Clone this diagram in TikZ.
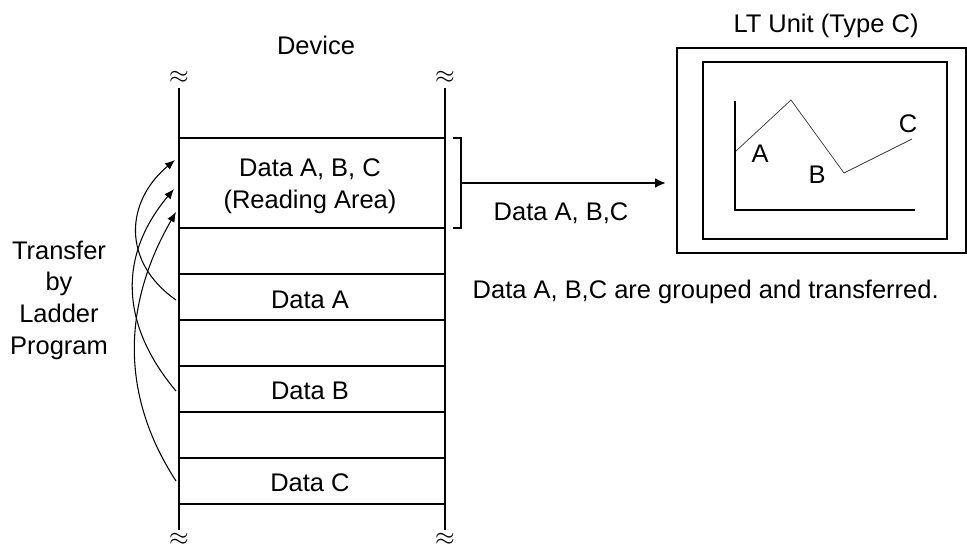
\documentclass[tikz,border=0pt]{standalone}
\usepackage{fontspec}
\setmainfont{Liberation Sans}
\usepackage{tikz}
\usetikzlibrary{arrows.meta,positioning}

\begin{document}
\begin{tikzpicture}[font=\fontsize{14.5}{18}\selectfont, wall/.style={line width=1pt}, carry/.style={-{Latex[length=2mm,width=1.6mm]}, semithick}]
        \useasboundingbox (0,0) rectangle (19.34,10.88);

        % device memory
        \draw[wall] (3.58,0.28) -- (3.58,9.12);
        \draw[wall] (8.90,0.28) -- (8.90,9.12);
        \foreach \y in {8.12,6.32,5.40,4.48,3.56,2.64,1.72,0.80}
            \draw[wall] (3.58,\y) -- (8.90,\y);
        \node (BL1) at (3.58,9.34) {$\approx$};
        \node (BR1) at (8.90,9.34) {$\approx$};
        \node (BL2) at (3.58,0.10) {$\approx$};
        \node (BR2) at (8.90,0.10) {$\approx$};

        \node (Dev) at (6.32,9.98) {Device};
        \node (Read) [align=center] at (6.20,7.16) {Data A, B, C\\(Reading Area)};
        \node (DA) at (6.20,4.88) {Data A};
        \node (DB) at (6.20,3.06) {Data B};
        \node (DC) at (6.20,1.22) {Data C};
        \node (Tr) [align=center] at (1.18,4.88) {Transfer\\by\\Ladder\\Program};

        \coordinate (sA) at (3.52,4.88);
        \coordinate (sB) at (3.52,3.06);
        \coordinate (sC) at (3.52,1.26);
        \coordinate (tA) at (3.50,7.68);
        \coordinate (tB) at (3.48,7.10);
        \coordinate (tC) at (3.52,6.64);
        \draw[carry] (sA) to[out=145, in=220, looseness=1.2] (tA);
        \draw[carry] (sB) to[out=130, in=230, looseness=1.1] (tB);
        \draw[carry] (sC) to[out=123, in=240] (tC);

        % bracket and transfer
        \draw[line width=1.6pt] (9.06,8.12) -- (9.22,8.12) -- (9.22,6.32) -- (9.06,6.32);
        \coordinate (brk) at (9.22,7.22);
        \node (LT) [draw, line width=1pt, minimum width=5.78cm, minimum height=4.10cm] at (16.43,7.87) {};
        \node (scr) [draw, line width=1pt, minimum width=4.88cm, minimum height=3.54cm] at (16.50,7.87) {};
        \draw[-{Latex[length=2.2mm,width=2mm]}, line width=1.7pt] (brk) -- (13.32,7.22);
        \node (lab) at (11.22,6.62) {Data A, B,C};
        \node (note) [anchor=west] at (9.33,5.05) {Data A, B,C are grouped and transferred.};
        \node (LTt) at (16.52,10.36) {LT Unit (Type C)};

        % trend graph
        \draw[wall] (14.70,8.86) -- (14.70,6.68) -- (18.30,6.68);
        \draw[thin, black!80] (14.72,7.86) -- (15.82,8.88) -- (16.88,7.42) -- (18.24,8.10);
        \node (gA) at (15.20,7.80) {A};
        \node (gB) at (16.34,7.38) {B};
        \node (gC) at (18.16,8.40) {C};
    \end{tikzpicture}
\end{document}
